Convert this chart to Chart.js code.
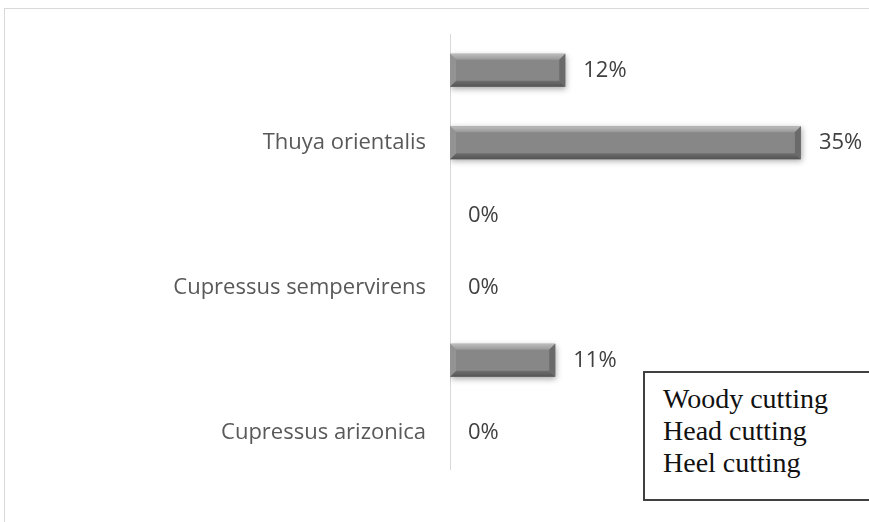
<!DOCTYPE html>
<html>
<head>
<meta charset="utf-8">
<script src="https://cdn.jsdelivr.net/npm/chart.js@4"></script>
<style>
  html, body { margin: 0; padding: 0; background: #fff; overflow: hidden; }
  #frame {
    position: absolute; left: 4px; top: 8px; width: 900px; height: 560px;
    border: 1px solid #d9d9d9;
  }
  #chart { position: absolute; left: 0; top: 0; }
  #note {
    position: absolute; left: 643px; top: 371px; width: 300px; height: 116px;
    border: 2px solid #404040; background: #fff;
    box-sizing: content-box;
    padding: 10px 0 0 18px;
    font-family: "Liberation Serif", serif; font-size: 28px; line-height: 32px;
    color: #111;
  }
</style>
</head>
<body>
<div id="frame"></div>
<canvas id="chart" width="869" height="522"></canvas>
<div id="note">Woody cutting<br>Head cutting<br>Heel cutting</div>

<script>
// rows read top to bottom; only every second row carries a species name
const categories = ["", "Thuya orientalis", "", "Cupressus sempervirens", "", "Cupressus arizonica"];
// bar lengths as measured; labels show them rounded
const rootingPct = [11.5, 35, 0, 0, 10.5, 0];
const xMax = 40;

const labelFont = "22px 'Open Sans'";

// soft drop shadow under the bars, then a bevel on top of them
const bevelBars = {
  id: "bevelBars",
  beforeDatasetDraw(chart) {
    const ctx = chart.ctx;
    ctx.save();
    ctx.shadowColor = "rgba(0,0,0,0.35)";
    ctx.shadowBlur = 6;
    ctx.shadowOffsetX = 1;
    ctx.shadowOffsetY = 2;
  },
  afterDatasetDraw(chart, args) {
    const ctx = chart.ctx;
    ctx.restore();
    args.meta.data.forEach((bar, i) => {
      if (!rootingPct[i]) return;
      const { x, y, base, height } = bar.getProps(["x", "y", "base", "height"], true);
      const left = Math.min(x, base), right = Math.max(x, base);
      const top = y - height / 2, bottom = y + height / 2;
      const b = 6;

      const topGrad = ctx.createLinearGradient(0, top, 0, top + b);
      topGrad.addColorStop(0, "#bdbdbd");
      topGrad.addColorStop(1, "#979797");
      ctx.fillStyle = topGrad;
      ctx.beginPath();
      ctx.moveTo(left, top); ctx.lineTo(right, top);
      ctx.lineTo(right - b, top + b); ctx.lineTo(left + b, top + b);
      ctx.closePath(); ctx.fill();

      const botGrad = ctx.createLinearGradient(0, bottom - b, 0, bottom);
      botGrad.addColorStop(0, "#6e6e6e");
      botGrad.addColorStop(1, "#545454");
      ctx.fillStyle = botGrad;
      ctx.beginPath();
      ctx.moveTo(left, bottom); ctx.lineTo(right, bottom);
      ctx.lineTo(right - b, bottom - b); ctx.lineTo(left + b, bottom - b);
      ctx.closePath(); ctx.fill();

      ctx.fillStyle = "#6a6a6a";
      ctx.beginPath();
      ctx.moveTo(right, top); ctx.lineTo(right, bottom);
      ctx.lineTo(right - b, bottom - b); ctx.lineTo(right - b, top + b);
      ctx.closePath(); ctx.fill();

      ctx.fillStyle = "#939393";
      ctx.beginPath();
      ctx.moveTo(left, top); ctx.lineTo(left, bottom);
      ctx.lineTo(left + b, bottom - b); ctx.lineTo(left + b, top + b);
      ctx.closePath(); ctx.fill();
    });
  }
};

// value labels just past the end of each bar
const valueLabels = {
  id: "valueLabels",
  afterDatasetsDraw(chart) {
    const ctx = chart.ctx;
    const meta = chart.getDatasetMeta(0);
    ctx.save();
    ctx.font = labelFont;
    ctx.fillStyle = "#404040";
    ctx.textAlign = "left";
    ctx.textBaseline = "middle";
    meta.data.forEach((bar, i) => {
      ctx.fillText(Math.round(rootingPct[i]) + "%", bar.x + 18, bar.y);
    });
    ctx.restore();
  }
};

new Chart(document.getElementById("chart"), {
  type: "bar",
  data: {
    labels: categories,
    datasets: [{
      data: rootingPct,
      backgroundColor: "#878787",
      borderWidth: 0,
      categoryPercentage: 1,
      barPercentage: 0.453
    }]
  },
  options: {
    indexAxis: "y",
    responsive: false,
    animation: false,
    layout: { padding: { top: 34, bottom: 53, right: 18, left: 0 } },
    plugins: {
      legend: { display: false },
      tooltip: { enabled: false }
    },
    scales: {
      x: { display: false, min: 0, max: xMax },
      y: {
        afterFit(scale) {
          scale.width = 450;
          // labels sit inside their rows, no extra room needed above/below
          scale.paddingTop = 0;
          scale.paddingBottom = 0;
        },
        grid: { display: true, drawOnChartArea: false, drawTicks: false },
        border: { display: true, color: "#d9d9d9", width: 1 },
        ticks: {
          autoSkip: false,
          padding: 24,
          color: "#595959",
          font: { family: "'Open Sans'", size: 22 }
        }
      }
    }
  },
  plugins: [bevelBars, valueLabels]
});
</script>
</body>
</html>
